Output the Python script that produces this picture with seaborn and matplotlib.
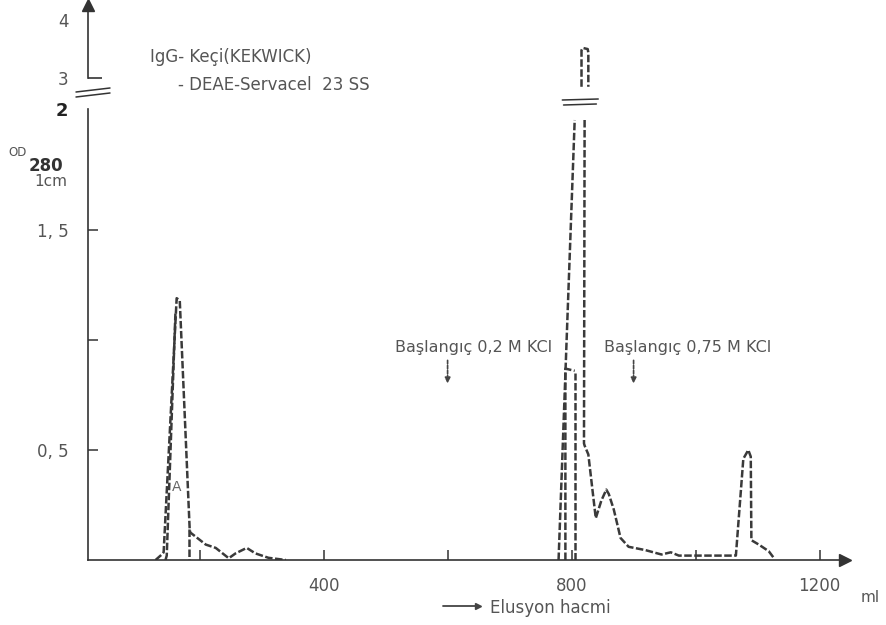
import matplotlib
matplotlib.use("Agg")
import matplotlib.pyplot as plt
import seaborn as sns
import pandas as pd
from matplotlib.lines import Line2D
from matplotlib.transforms import blended_transform_factory, ScaledTranslation

# ---------------- data (elution volume in ml, OD280) ----------------
peak1_ml = [129, 139, 142, 163, 168, 184, 185, 210, 226, 247, 258, 276, 290, 311, 339]
peak1_od = [0.0, 0.025, 0.035, 1.19, 1.18, 0.14, 0.125, 0.07, 0.055, 0.008, 0.03, 0.055, 0.03, 0.01, 0.0]

peak1_inner_ml = [145, 147, 161]
peak1_inner_od = [0.0, 0.02, 1.12]

peak1_drop_ml = [183, 183]
peak1_drop_od = [0.14, 0.0]

main_left_ml = [779, 805]
main_left_od = [0.0, 2.0]

main_inner_a_ml = [790, 790, 805]
main_inner_a_od = [0.0, 0.87, 0.86]

main_inner_b_ml = [805, 805]
main_inner_b_od = [0.0, 0.85]

main_right_ml = [821, 820, 821, 827, 839, 848, 856, 860, 868, 879, 892, 919, 945, 960,
                 973, 1005, 1061, 1065, 1077, 1085, 1089, 1090, 1102, 1118, 1126]
main_right_od = [2.0, 0.53, 0.52, 0.48, 0.19, 0.27, 0.32, 0.30, 0.23, 0.10, 0.06, 0.045,
                 0.025, 0.035, 0.02, 0.02, 0.02, 0.02, 0.46, 0.50, 0.47, 0.09, 0.07, 0.04, 0.01]

main_top_ml = [816, 816, 818, 826, 827, 827]
main_top_od = [2.85, 3.48, 3.52, 3.50, 3.44, 2.85]

kcl_ml = [600, 900]
kcl_labels = ["Başlangıç 0,2 M KCl", "Başlangıç 0,75 M KCl"]

x_ticks = [200, 400, 600, 800, 1000, 1200]
x_ticklabels = ["", "400", "", "800", "", "1200"]
y_ticks = [0.5, 1.0, 1.5, 2.0]
y_ticklabels = ["0, 5", "", "1, 5", "2"]
y_top_ticks = [3, 4]
y_top_ticklabels = ["3", "4"]

title_lines = ["IgG- Keçi(KEKWICK)", "- DEAE-Servacel  23 SS"]
x_title = "Elusyon hacmi"
x_unit = "ml"

# ---------------- build tables ----------------
def strand(name, xs, ys):
    return pd.DataFrame({"ml": xs, "od": ys, "strand": name})

low_df = pd.concat([
    strand("p1", peak1_ml, peak1_od),
    strand("p1_inner", peak1_inner_ml, peak1_inner_od),
    strand("p1_drop", peak1_drop_ml, peak1_drop_od),
    strand("main_left", main_left_ml, main_left_od),
    strand("main_in_a", main_inner_a_ml, main_inner_a_od),
    strand("main_in_b", main_inner_b_ml, main_inner_b_od),
    strand("main_right", main_right_ml, main_right_od),
], ignore_index=True)
top_df = strand("main_top", main_top_ml, main_top_od)

# ---------------- figure ----------------
sns.set_theme(style="white")
plt.rcParams["font.family"] = ["DejaVu Sans"]

W, H = 886, 625
fig = plt.figure(figsize=(W / 100, H / 100), dpi=100)
fig.patch.set_facecolor("white")

def fx(px):
    return px / W

def fy(py):
    return 1 - py / H

ax = fig.add_axes([fx(88), fy(560), 757 / W, 451 / H])
ax_top = fig.add_axes([fx(88), fy(92), 757 / W, 87 / H])

ink = "#333333"
txt = "#555555"
line_kw = dict(color="#3a3a3a", linewidth=1.8, linestyle=(0, (3, 1)))

sns.lineplot(data=low_df, x="ml", y="od", units="strand", estimator=None, sort=False,
             ax=ax, legend=False, **line_kw)
sns.lineplot(data=top_df, x="ml", y="od", units="strand", estimator=None, sort=False,
             ax=ax_top, legend=False, **line_kw)

for a in (ax, ax_top):
    a.set_xlim(20, 1241)
    a.set_facecolor("none")
    a.set_xlabel("")
    a.set_ylabel("")
    for s in ("top", "right"):
        a.spines[s].set_visible(False)
    a.spines["left"].set_color(ink)
    a.spines["left"].set_linewidth(1.2)

ax.set_ylim(0, 2.05)
ax_top.set_ylim(2.76, 4.26)

ax.spines["bottom"].set_color(ink)
ax.spines["bottom"].set_linewidth(1.2)
ax.set_xticks(x_ticks)
ax.set_xticklabels(x_ticklabels)
ax.set_yticks(y_ticks)
ax.set_yticklabels(y_ticklabels)
ax.tick_params(axis="both", direction="in", length=7, width=1.1, color=ink,
               labelcolor=txt, labelsize=12, left=True, bottom=True)
ax.tick_params(axis="x", pad=12)
ax.tick_params(axis="y", pad=14)
for lab in ax.get_yticklabels():
    if lab.get_text() == "2":
        lab.set_fontweight("bold")
        lab.set_color("#222222")
        lab.set_fontsize(13)
        lab.set_transform(lab.get_transform() + ScaledTranslation(0, 8 / 72, fig.dpi_scale_trans))
ax.yaxis.get_major_ticks()[3].tick1line.set_visible(False)

ax_top.spines["bottom"].set_visible(False)
ax_top.spines["left"].set_bounds(3, 4.26)
ax_top.set_xticks([])
ax_top.set_yticks(y_top_ticks)
ax_top.set_yticklabels(y_top_ticklabels)
ax_top.tick_params(axis="y", direction="in", length=10, width=1.2, color=ink,
                   labelcolor=txt, labelsize=12, pad=14, left=True)
ax_top.yaxis.get_major_ticks()[1].tick1line.set_visible(False)

# axis arrows
ax.plot(1, 0, marker=">", color=ink, markersize=8, transform=ax.transAxes, clip_on=False)
ax_top.plot(0, 1, marker="^", color=ink, markersize=9, transform=ax_top.transAxes, clip_on=False)

# break marks on the y axis
fig.add_artist(Line2D([fx(76), fx(110)], [fy(92), fy(88)], color=ink, lw=1.1))
fig.add_artist(Line2D([fx(76), fx(110)], [fy(97), fy(93)], color=ink, lw=1.1))
# break marks across the main peak
bt = blended_transform_factory(ax.transData, fig.transFigure)
fig.add_artist(Line2D([785, 843], [fy(100), fy(99)], color=ink, lw=1.1, transform=bt))
fig.add_artist(Line2D([787, 840], [fy(105), fy(104)], color=ink, lw=1.1, transform=bt))

# KCl start annotations
text_dx = [-85, -48]
for ml, lab, dx in zip(kcl_ml, kcl_labels, text_dx):
    ax.annotate("", xy=(ml, 0.79), xytext=(ml, 0.92),
                arrowprops=dict(arrowstyle="-|>", color="#444444", lw=1.2,
                                linestyle=(0, (2, 1)), mutation_scale=8))
    ax.text(ml + dx, 0.965, lab, fontsize=11.5, color=txt, ha="left", va="center")

ax.text(163, 0.33, "A", fontsize=10, color="#666666", ha="center", va="center")

# titles and axis labels
fig.text(fx(150), fy(57), title_lines[0], fontsize=12, color=txt, ha="left", va="center")
fig.text(fx(178), fy(85), title_lines[1], fontsize=12, color=txt, ha="left", va="center")

fig.text(fx(8), fy(153), "OD", fontsize=8.5, color=txt, ha="left", va="center")
fig.text(fx(29), fy(166), "280", fontsize=12, fontweight="bold", color="#333333",
         ha="left", va="center")
fig.text(fx(34), fy(182), "1cm", fontsize=11, color=txt, ha="left", va="center")

fig.add_artist(Line2D([fx(443), fx(478)], [fy(606), fy(606)], color="#444444", lw=1.3))
fig.add_artist(Line2D([fx(478)], [fy(606)], marker=">", color="#444444", markersize=5, lw=0))
fig.text(fx(490), fy(608), x_title, fontsize=12, color=txt, ha="left", va="center")
fig.text(fx(861), fy(598), x_unit, fontsize=11, color=txt, ha="left", va="center")

fig.savefig("out.png", dpi=100, facecolor="white")
